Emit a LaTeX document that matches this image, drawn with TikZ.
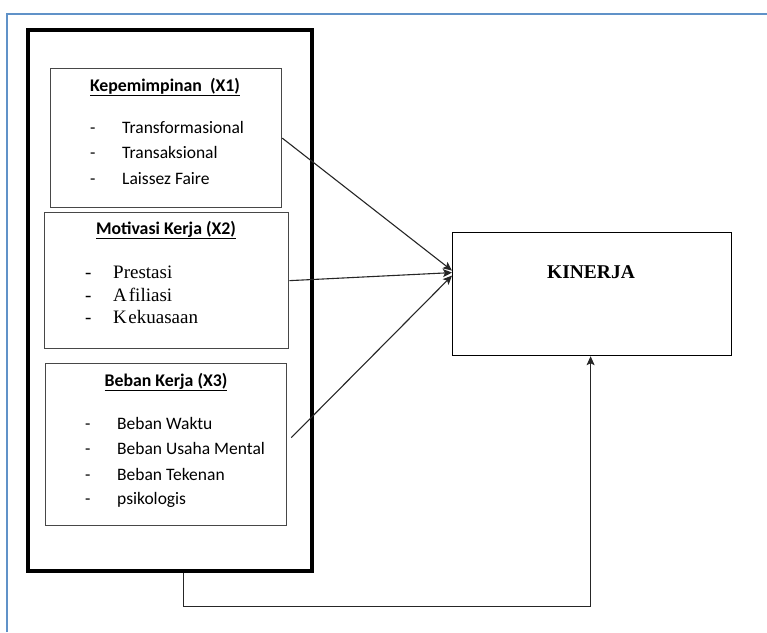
\documentclass[tikz,border=0pt]{standalone}
\usepackage{fontspec}
\setmainfont{Liberation Serif}
\newfontfamily\calib{Carlito}
\usetikzlibrary{arrows.meta}
\definecolor{frameblue}{RGB}{96,146,200}
\newcommand{\itm}[2]{\makebox[#1][l]{-}#2}
\begin{document}
\begin{tikzpicture}[x=1pt,y=-1pt,
  group/.style={draw, line width=4.3pt, anchor=north west, inner sep=0pt},
  varbox/.style={draw=black!72, line width=1.3pt, anchor=north west, inner sep=0pt},
  outbox/.style={draw, line width=1.2pt, anchor=north west, inner sep=0pt},
  ttl/.style={font=\calib\bfseries\fontsize{17.8}{20}\selectfont, inner sep=0pt},
  itc/.style={font=\calib\fontsize{17.5}{20}\selectfont, anchor=base west, inner sep=0pt},
  its/.style={font=\fontsize{19}{22}\selectfont, anchor=base west, inner sep=0pt},
  link/.style={draw=black!85, line width=1.1pt, -{Stealth[length=9pt,width=8pt,inset=2pt]}}
]
\useasboundingbox (0,0) rectangle (767,632);
% frame
\draw[frameblue, line width=1.5pt] (7,632) -- (7,14) -- (767,14);

% outer group
\node[group, minimum width=284pt, minimum height=541.5pt] (grp) at (26,27.5) {};

% boxes
\node[varbox, minimum width=231pt, minimum height=139pt] (x1) at (50,68) {};
\node[varbox, minimum width=244pt, minimum height=136pt] (x2) at (44,212) {};
\node[varbox, minimum width=241pt, minimum height=162pt] (x3) at (45,363) {};
\node[outbox, minimum width=279pt, minimum height=123pt] (K) at (452,232) {};

% titles
\node[ttl] (t1) at (165,87) {\underline{Kepemimpinan\ \ (X1)}};
\node[ttl] (t2) at (166,230) {\underline{Motivasi Kerja (X2)}};
\node[ttl] (t3) at (166,382) {\underline{Beban Kerja (X3)}};

% X1 items
\node[itc] (i11) at (90,133) {\itm{32pt}{Transformasional}};
\node[itc] (i12) at (90,158) {\itm{32pt}{Transaksional}};
\node[itc] (i13) at (90,184) {\itm{32pt}{Laissez Faire}};

% X2 items
\node[its] (i21) at (85,278) {\itm{28pt}{Prestasi}};
\node[its] (i22) at (85,301) {\itm{28pt}{A\kern2pt filiasi}};
\node[its] (i23) at (85,323) {\itm{28pt}{K\kern1.5pt ekuasaan}};

% X3 items
\node[itc] (i31) at (85,429) {\itm{32pt}{Beban Waktu}};
\node[itc] (i32) at (85,454) {\itm{32pt}{Beban Usaha Mental}};
\node[itc] (i33) at (85,480) {\itm{32pt}{Beban Tekenan}};
\node[itc] (i34) at (85,504) {\itm{32pt}{psikologis}};

% KINERJA
\node[font=\bfseries\fontsize{19.5}{22}\selectfont, inner sep=0pt] (kt) at (591,272) {KINERJA};

% connectors
\draw[link] (x1.east) -- ([yshift=23.5pt]K.west);
\draw[link] (x2.east) -- ([yshift=21.5pt]K.west);
\draw[link] ([xshift=4pt,yshift=7pt]x3.east) -- ([yshift=18.5pt]K.west);
\draw[link] ([xshift=13pt]grp.south) -- ++(0,33) -| ([xshift=-1.5pt]K.south);
\end{tikzpicture}
\end{document}
